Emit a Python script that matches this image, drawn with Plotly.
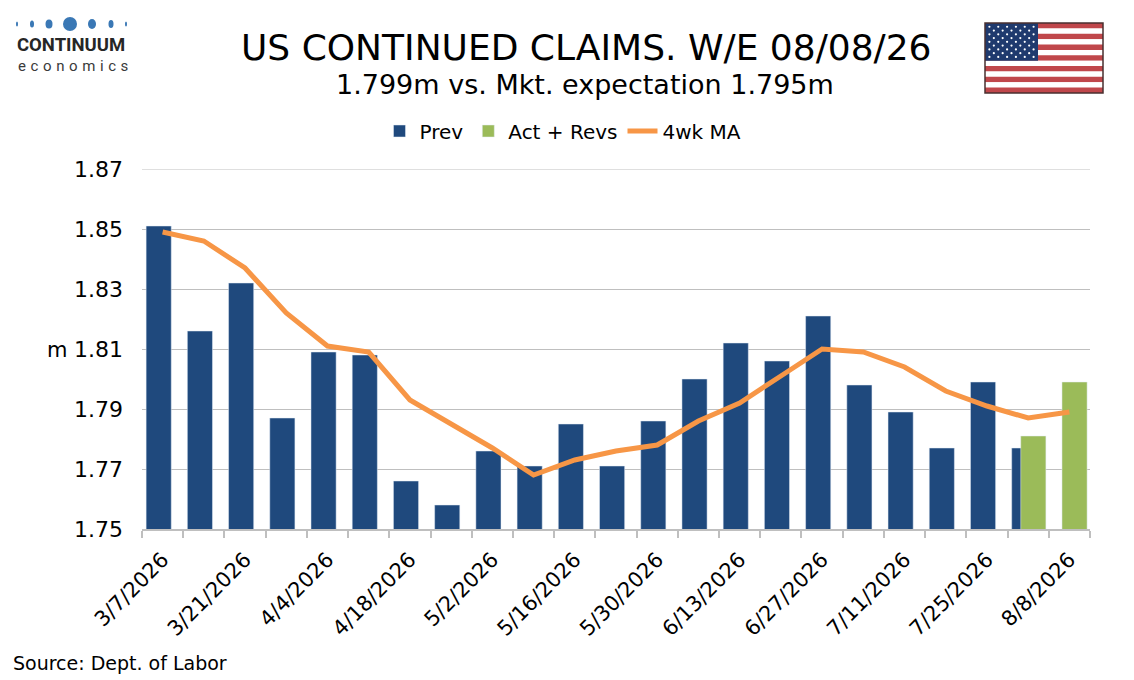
import plotly.graph_objects as go

# weekly data, values in millions
weeks = [
    "3/7/2026", "3/14/2026", "3/21/2026", "3/28/2026", "4/4/2026", "4/11/2026",
    "4/18/2026", "4/25/2026", "5/2/2026", "5/9/2026", "5/16/2026", "5/23/2026",
    "5/30/2026", "6/6/2026", "6/13/2026", "6/20/2026", "6/27/2026", "7/4/2026",
    "7/11/2026", "7/18/2026", "7/25/2026", "8/1/2026", "8/8/2026",
]
prev = [
    1.851, 1.816, 1.832, 1.787, 1.809, 1.808, 1.766, 1.758, 1.776, 1.771, 1.785, 1.771,
    1.786, 1.800, 1.812, 1.806, 1.821, 1.798, 1.789, 1.777, 1.799, 1.777, None,
]
act_revs = [None] * 21 + [1.781, 1.799]
ma_4wk = [
    1.849, 1.846, 1.837, 1.822, 1.811, 1.809, 1.793, 1.785, 1.777, 1.768, 1.773, 1.776,
    1.778, 1.786, 1.792, 1.801, 1.810, 1.809, 1.804, 1.796, 1.791, 1.787, 1.789,
]
y_range = [1.75, 1.87]

BLUE = "#1F497D"
GREEN = "#9BBB59"
ORANGE = "#F79646"
GRID = "#BFBFBF"
FONT = "DejaVu Sans, Verdana, sans-serif"

# page is drawn with the browser's 8px body margin, so the figure is 8px smaller
PAGE_OFF = 8
# plot area in window pixels, used to place the decorations
L, R, T, B = 142, 1090, 169, 529


def px_x(x):
    return (x - L) / (R - L)


def px_y(y):
    return (B - y) / (B - T)


idx = list(range(len(weeks)))

fig = go.Figure()
fig.add_trace(go.Bar(x=idx, y=prev, name="Prev", marker_color=BLUE,
                     width=0.61, offset=-0.40))
fig.add_trace(go.Bar(x=idx, y=act_revs, name="Act + Revs", marker_color=GREEN,
                     width=0.61, offset=-0.18))
fig.add_trace(go.Scatter(x=idx, y=ma_4wk, name="4wk MA", mode="lines",
                         line=dict(color=ORANGE, width=5)))

shapes = []
annotations = []

# top gridline sits on the plot edge, plotly skips it
shapes.append(dict(type="line", xref="paper", yref="y", x0=0, x1=1,
                   y0=y_range[1], y1=y_range[1], line=dict(color=GRID, width=1), layer="below"))

# logo: row of dots + wordmark
dots = [(17, 2, 5), (32, 4, 7), (49, 7, 9), (70, 14, 14), (92, 8, 10), (111, 5, 8), (126, 2, 5)]
for cx, w, h in dots:
    shapes.append(dict(type="circle", xref="paper", yref="paper",
                       x0=px_x(cx - w / 2), x1=px_x(cx + w / 2),
                       y0=px_y(24 + h / 2), y1=px_y(24 - h / 2),
                       fillcolor="#3A78B5", line_width=0))
annotations.append(dict(text="<b>CONTINUUM</b>", x=px_x(15), y=px_y(45), xref="paper", yref="paper",
                        xanchor="left", yanchor="middle", showarrow=False,
                        font=dict(family="Roboto, sans-serif", size=18.5, color="#262626")))
annotations.append(dict(text="\u2009\u200a".join("economics"), x=px_x(16), y=px_y(66),
                        xref="paper", yref="paper", xanchor="left", yanchor="middle",
                        showarrow=False,
                        font=dict(family="Roboto, sans-serif", size=15, color="#3a3a3a")))

# flag
fx0, fx1, fy0, fy1 = 985, 1103, 23, 93
sh = (fy1 - fy0) / 13
for i in range(13):
    shapes.append(dict(type="rect", xref="paper", yref="paper",
                       x0=px_x(fx0), x1=px_x(fx1),
                       y0=px_y(fy0 + i * sh), y1=px_y(fy0 + (i + 1) * sh),
                       fillcolor="#C0474B" if i % 2 == 0 else "white", line_width=0))
cx1 = 1038
cy1 = fy0 + 7 * sh
shapes.append(dict(type="rect", xref="paper", yref="paper",
                   x0=px_x(fx0), x1=px_x(cx1), y0=px_y(fy0), y1=px_y(cy1),
                   fillcolor="#1F3A6E", line_width=0))
cw = cx1 - fx0
ch = cy1 - fy0
for r in range(9):
    n = 6 if r % 2 == 0 else 5
    sy = fy0 + ch * (r + 1) / 10
    for k in range(n):
        sx = fx0 + cw / 12 * (2 * k + 1 + (0 if n == 6 else 1))
        shapes.append(dict(type="circle", xref="paper", yref="paper",
                           x0=px_x(sx - 1.1), x1=px_x(sx + 1.1),
                           y0=px_y(sy - 1.1), y1=px_y(sy + 1.1),
                           fillcolor="white", line_width=0))
shapes.append(dict(type="rect", xref="paper", yref="paper",
                   x0=px_x(fx0), x1=px_x(fx1), y0=px_y(fy0), y1=px_y(fy1),
                   line=dict(color="#4a3030", width=1.5)))

# titles and labels
annotations.append(dict(text="US CONTINUED CLAIMS. W/E 08/08/26", x=px_x(586), y=px_y(47),
                        xref="paper", yref="paper", xanchor="center", yanchor="middle",
                        showarrow=False, font=dict(family=FONT, size=36, color="black")))
annotations.append(dict(text="1.799m vs. Mkt. expectation 1.795m", x=px_x(585), y=px_y(85),
                        xref="paper", yref="paper", xanchor="center", yanchor="middle",
                        showarrow=False, font=dict(family=FONT, size=27, color="black")))
annotations.append(dict(text="m", x=px_x(57), y=px_y(350), xref="paper", yref="paper",
                        xanchor="center", yanchor="middle", showarrow=False,
                        font=dict(family=FONT, size=21, color="black")))
annotations.append(dict(text="Source: Dept. of Labor", x=px_x(11), y=px_y(663),
                        xref="paper", yref="paper", xanchor="left", yanchor="middle",
                        showarrow=False, font=dict(family=FONT, size=19, color="black")))

fig.update_layout(
    width=1134 - PAGE_OFF, height=680 - PAGE_OFF,
    margin=dict(l=L - PAGE_OFF, r=1134 - R, t=T - PAGE_OFF, b=680 - B),
    paper_bgcolor="white", plot_bgcolor="white",
    barmode="overlay",
    font=dict(family=FONT, size=19, color="black"),
    legend=dict(orientation="h", x=px_x(563), xanchor="center", y=px_y(131), yanchor="middle",
                font=dict(size=20), traceorder="normal"),
    shapes=shapes,
    annotations=annotations,
)
fig.update_xaxes(
    range=[-0.5, len(weeks) - 0.5],
    tickmode="array", tickvals=idx[::2], ticktext=weeks[::2],
    tickangle=-45, tickfont=dict(size=21), ticks="", ticklabelstandoff=8,
    showgrid=False, zeroline=False,
    showline=True, linecolor=GRID, linewidth=2,
    minor=dict(tick0=-0.5, dtick=1, ticks="outside", ticklen=7, tickwidth=2,
               tickcolor=GRID, showgrid=False),
)
fig.update_yaxes(
    range=y_range, tick0=1.75, dtick=0.02, tickformat=".2f",
    tickfont=dict(size=22), showgrid=True, gridcolor=GRID, gridwidth=1,
    zeroline=False, showline=False, ticks="", ticklabelstandoff=18,
)

fig.write_html("out.html")
